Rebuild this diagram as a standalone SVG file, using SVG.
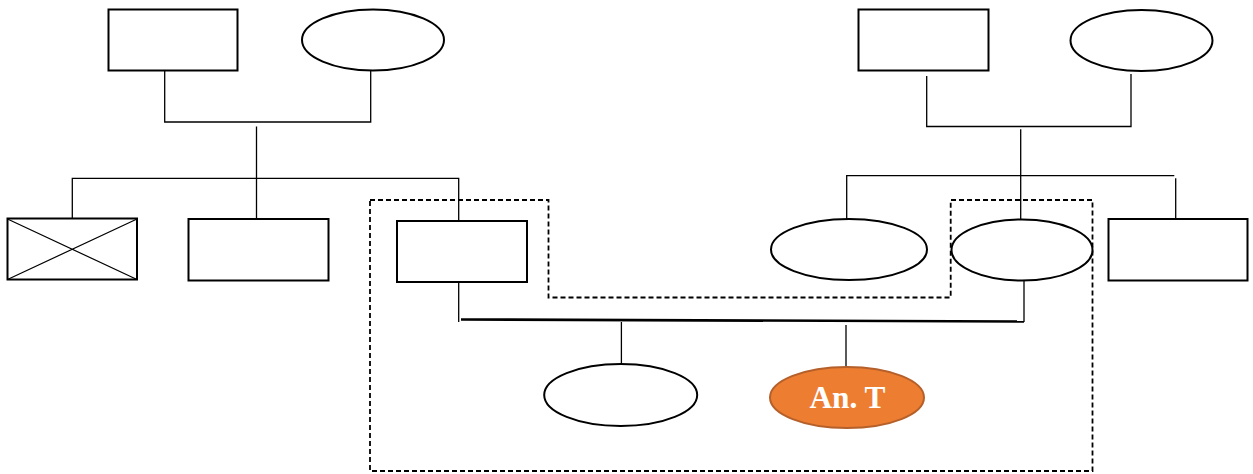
<svg xmlns="http://www.w3.org/2000/svg" width="1253" height="474" viewBox="0 0 1253 474">
<style>
.n{fill:#fff;stroke:#000;stroke-width:2}
.c{fill:none;stroke:#000;stroke-width:1.3}
.d{fill:none;stroke:#000;stroke-width:1.8;stroke-dasharray:5 3}
.t{font-family:"Liberation Serif","Times New Roman",serif;font-weight:bold;font-size:32.5px;fill:#fff}
</style>
<rect width="1253" height="474" fill="#fff"/>
<g id="connectors">
<path class="c" d="M164.7 70.5V122H370.7V70.5"/>
<path class="c" d="M256.5 126.5V219"/>
<path class="c" d="M72.3 218.5V178.3H458.7V221"/>
<path class="c" d="M926.7 76V126.5H1131V74"/>
<path class="c" d="M1020.7 129.3V220"/>
<path class="c" d="M846.7 219V175.7H1174.3"/>
<path class="c" d="M1175.7 178.3V219"/>
<path class="c" d="M458.7 282V322"/>
<path class="c" d="M1024 280.5V322"/>
<path fill="none" stroke="#000" stroke-width="2.6" d="M461 319.5L1024 321.5"/>
<path class="c" d="M621.4 322V363"/>
<path class="c" d="M846 325V367"/>
<path class="d" d="M370 200H548.5V297.5H950.7V200H1092.5V471H370Z"/>
</g>
<g id="gf1"><rect class="n" x="108.5" y="9.5" width="129" height="61"/></g>
<g id="gm1"><ellipse class="n" cx="373" cy="40" rx="71" ry="30.5"/></g>
<g id="gf2"><rect class="n" x="858.5" y="9.5" width="130" height="61"/></g>
<g id="gm2"><ellipse class="n" cx="1141.5" cy="40.5" rx="71" ry="30.5"/></g>
<g id="s1"><rect class="n" x="7.5" y="218.5" width="129.5" height="61"/><path fill="none" stroke="#000" stroke-width="1.2" d="M7.5 279.5L137 219M7.5 219L137 279.5"/></g>
<g id="s2"><rect class="n" x="188.5" y="219" width="140" height="61.5"/></g>
<g id="father"><rect class="n" x="397" y="221" width="130" height="61"/></g>
<g id="s3"><ellipse class="n" cx="849" cy="249.5" rx="78" ry="30.5"/></g>
<g id="mother"><ellipse class="n" cx="1022" cy="250" rx="70.5" ry="30.5"/></g>
<g id="s4"><rect class="n" x="1108.5" y="219" width="139" height="61.5"/></g>
<g id="c1"><ellipse class="n" cx="620.7" cy="395" rx="76.5" ry="31"/></g>
<g id="proband"><ellipse cx="847" cy="397.5" rx="77" ry="30.5" fill="#ED7D31" stroke="#B5602A" stroke-width="2"/><text class="t" x="847.5" y="408" text-anchor="middle" textLength="76" lengthAdjust="spacingAndGlyphs">An. T</text></g>
</svg>
